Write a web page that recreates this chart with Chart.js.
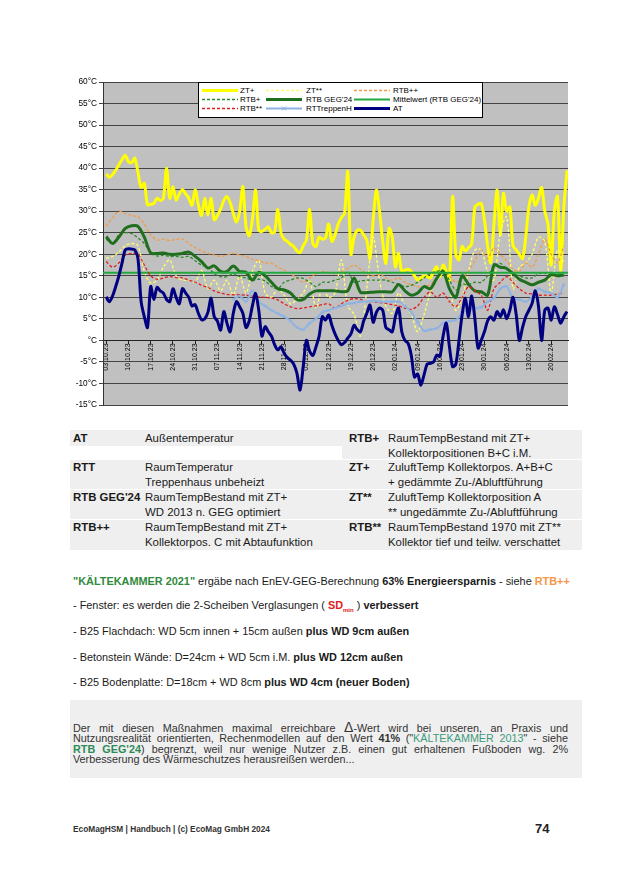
<!DOCTYPE html>
<html>
<head>
<meta charset="utf-8">
<script src="https://cdn.jsdelivr.net/npm/chart.js@4.4.0/dist/chart.umd.min.js"></script>
<style>
body { margin: 0; background: #fff; }
#page { position: relative; width: 622px; height: 882px; overflow: hidden; font-family: "Liberation Sans", Arial, sans-serif; color: #222; }
#chartBox { position: absolute; left: 55px; top: 72px; width: 520px; height: 345px; }
#legend { position: absolute; left: 198px; top: 82px; width: 285px; height: 36px; box-sizing: border-box; background: #fff; border: 1px solid #000; font-size: 8px; color: #000; }
#legend .item { position: absolute; height: 0; }
#legend svg { position: absolute; left: 0; top: -4px; }
#legend span { position: absolute; top: -5px; white-space: nowrap; line-height: 10px; }
.bg { position: absolute; background: #efefef; }
.t { position: absolute; font-size: 11.4px; line-height: 14.5px; white-space: nowrap; color: #1a1a1a; }
.b { font-weight: bold; }
.line { position: absolute; left: 73px; font-size: 10.9px; line-height: 14px; white-space: nowrap; color: #1a1a1a; }
#para { position: absolute; left: 73px; top: 722px; width: 495px; font-size: 10.8px; line-height: 10.4px; color: #333; }
#para div { text-align: justify; text-align-last: justify; white-space: nowrap; }
#para div.last { text-align-last: left; }
#foot { position: absolute; left: 73px; top: 824px; font-size: 8.3px; font-weight: bold; color: #333; }
#pnum { position: absolute; left: 535px; top: 821px; font-size: 13px; font-weight: bold; color: #222; }
</style>
</head>
<body>
<div id="page">
  <div id="chartBox"><canvas id="TempChart"></canvas></div>
  <div id="legend"></div>

  <!-- Legend table -->
  <div class="bg" style="left:70px;top:430px;width:272px;height:16px"></div>
  <div class="bg" style="left:342px;top:430px;width:240px;height:29px"></div>
  <div class="bg" style="left:70px;top:460px;width:512px;height:29px"></div>
  <div class="bg" style="left:70px;top:490px;width:512px;height:29px"></div>
  <div class="bg" style="left:70px;top:520px;width:512px;height:30px"></div>

  <div class="t b" style="left:73px;top:431px">AT</div>
  <div class="t" style="left:145px;top:431px">Außentemperatur</div>
  <div class="t b" style="left:349px;top:431px">RTB+</div>
  <div class="t" style="left:388px;top:431px">RaumTempBestand mit ZT+<br>Kollektorpositionen B+C i.M.</div>

  <div class="t b" style="left:73px;top:460px">RTT</div>
  <div class="t" style="left:145px;top:460px">RaumTemperatur<br>Treppenhaus unbeheizt</div>
  <div class="t b" style="left:349px;top:460px">ZT+</div>
  <div class="t" style="left:388px;top:460px">ZuluftTemp Kollektorpos. A+B+C<br>+ gedämmte Zu-/Abluftführung</div>

  <div class="t b" style="left:73px;top:490px">RTB GEG'24</div>
  <div class="t" style="left:145px;top:490px">RaumTempBestand mit ZT+<br>WD 2013 n. GEG optimiert</div>
  <div class="t b" style="left:349px;top:490px">ZT**</div>
  <div class="t" style="left:388px;top:490px">ZuluftTemp Kollektorposition A<br>** ungedämmte Zu-/Abluftführung</div>

  <div class="t b" style="left:73px;top:520px">RTB++</div>
  <div class="t" style="left:145px;top:520px">RaumTempBestand mit ZT+<br>Kollektorpos. C mit Abtaufunktion</div>
  <div class="t b" style="left:349px;top:520px">RTB**</div>
  <div class="t" style="left:388px;top:520px">RaumTempBestand 1970 mit ZT**<br>Kollektor tief und teilw. verschattet</div>

  <!-- Notes -->
  <div class="line" style="top:574px"><b style="color:#2f8a3c">"KÄLTEKAMMER 2021"</b> ergäbe nach EnEV-GEG-Berechnung <b>63% Energieersparnis</b> - siehe <b style="color:#f79646">RTB++</b></div>
  <div class="line" style="top:598px">- Fenster: es werden die 2-Scheiben Verglasungen ( <b style="color:#e02020">SD<sub style="font-size:6px">min</sub></b> ) <b>verbessert</b></div>
  <div class="line" style="top:624px">- B25 Flachdach: WD 5cm innen + 15cm außen <b>plus WD 9cm außen</b></div>
  <div class="line" style="top:650px">- Betonstein Wände: D=24cm + WD 5cm i.M. <b>plus WD 12cm außen</b></div>
  <div class="line" style="top:675px">- B25 Bodenplatte: D=18cm + WD 8cm <b>plus WD 4cm (neuer Boden)</b></div>

  <div class="bg" style="left:70px;top:700px;width:512px;height:78px"></div>
  <div id="para">
    <div>Der mit diesen Maßnahmen maximal erreichbare <span style="font-size:14px">Δ</span>-Wert wird bei unseren, an Praxis und</div>
    <div>Nutzungsrealität orientierten, Rechenmodellen auf den Wert <b>41%</b> ("<span style="color:#3d9a7c">KÄLTEKAMMER 2013</span>" - siehe</div>
    <div><b style="color:#2e8b57">RTB GEG'24</b>) begrenzt, weil nur wenige Nutzer z.B. einen gut erhaltenen Fußboden wg. 2%</div>
    <div class="last">Verbesserung des Wärmeschutzes herausreißen werden...</div>
  </div>

  <div id="foot">EcoMagHSM | Handbuch | (c) EcoMag GmbH 2024</div>
  <div id="pnum">74</div>
</div>

<script>
// x axis: days since 03.10.23
const tickLabels = ['03.10.23', '10.10.23', '17.10.23', '24.10.23', '31.10.23', '07.11.23', '14.11.23',
    '21.11.23', '28.11.23', '05.12.23', '12.12.23', '19.12.23', '26.12.23', '02.01.24', '09.01.24',
    '16.01.24', '23.01.24', '30.01.24', '06.02.24', '13.02.24', '20.02.24'];
const tickDays = [0, 7, 14, 21, 28, 35, 42, 49, 56, 63, 70, 77, 84, 91, 98, 105, 112, 119, 126, 133, 140];

const days = Array.from({ length: 146 }, (_, i) => i);      // daily values
const days2 = Array.from({ length: 73 }, (_, i) => i * 2);  // every 2nd day

// ZT+ (daily)
const ztPlus = [
    38.6, 37.9, 38.5, 39.5, 40.8, 42, 43, 41.5, 41.3, 42.3,
    39, 35.5, 36.5, 31.5, 31.6, 31.8, 33, 32.5, 33, 40,
    33, 35.7, 32.6, 34, 35, 34, 33, 31.4, 35, 31.5,
    29, 33, 29.1, 33, 28, 29, 30.5, 32.5, 33.4, 32,
    29.5, 27.5, 30, 35.7, 26.4, 24.3, 28, 34.9, 25.6, 25.3,
    25.8, 26.4, 25, 25.2, 30.4, 25, 23.5, 23, 22.3, 21.8,
    20.8, 20.4, 22, 23.3, 30.4, 22.5, 21.8, 24, 23.5, 23.8,
    27, 23, 24.5, 27, 28.5, 29.5, 39.2, 20, 24, 25.6,
    25.6, 24.5, 23.3, 19, 28, 34.9, 30, 23, 17.9, 26,
    24, 17.1, 20.2, 16, 16.3, 16.5, 16, 15, 14, 14.5,
    15, 14.8, 14.5, 16, 17.1, 14.8, 17.5, 16, 14, 33.4,
    20, 18.7, 21.8, 20.8, 21.5, 22.5, 31, 31.6, 31.8, 28,
    22, 18, 27, 34.9, 24.5, 34.1, 30, 31, 22, 21,
    20, 19, 24, 31, 33.8, 31.4, 33, 35.5, 30, 27,
    17.5, 30, 33.4, 16.3, 31, 39.5
];

// AT (daily)
const at = [
    10.1, 9, 10.3, 12.5, 15, 18, 21, 21.3, 21.2, 21,
    19, 9, 5.5, 3, 12.5, 9.5, 12.3, 11.5, 11, 9.5,
    9, 12, 10, 8.5, 12, 11, 10, 8, 8.3, 6.3,
    4.8, 5, 6.5, 9.8, 5.5, 4.5, 2.4, 6.7, 4, 2,
    6.3, 9, 7.8, 6.3, 3, 4.5, 8, 10.9, 7, 1,
    3.2, 2, 1, -1, -2.2, -1.5, -3, -4, -4.6, -5.5,
    -7.6, -11.5, -6, 0, -2.5, -3.5, -1.5, 1, 5.5, 4.7,
    5.9, 3.5, 1.5, 0, -1, -0.5, 0.5, 1.5, 3.5, 2.5,
    2, 4.5, 6.3, 8.2, 4.2, 6.5, 7.5, 7, 3, 2.5,
    2, 5.5, 7.5, 2, 0, -0.7, -3.5, -8.5, -7.8, -10.4,
    -8, -5.5, -5.3, -5, -3.4, -3.7, 1, 4, -1.5, -6.1,
    -5.5, 0, 6, 9.8, 5.5, 10.3, 5, -1.8, 0, 2,
    4.5, 5.5, 4.7, 6.7, 5.5, 7.1, 5, 7, 10, 6,
    0, 3, 5.5, 7, 8.6, 11.5, 8, 0, 7, 7.5,
    4.7, 7.8, 6, 4, 5.5, 6.7
];

// every 2nd day
const ztStar = [
    19, 19.5, 20.5, 22, 22.5, 22, 16, 13.3, 14, 17,
    18.7, 15, 14, 14, 13.5, 16.3, 12, 14, 11.5, 14,
    10.5, 15, 11, 16, 18.7, 11, 10, 12, 10.5, 8.5,
    9.5, 11, 14, 7.5, 12, 10, 11, 18.7, 8, 6,
    1, 12, 24, 14, 8, 6.3, 11, 8, 6, 2,
    6, 11, 14, 15.6, 12, 7, 10, 16, 21, 21,
    16, 14, 25, 28.7, 12, 17, 18, 20, 24, 23,
    11, 21, 18
];
const rtbPlusPlus = [
    26.5, 28.5, 30, 29.5, 29, 28.7, 27, 24.5, 23.3, 23.5,
    23.2, 23.5, 23.5, 22.5, 21.5, 20.8, 20.2, 19.8, 19.5, 19.8,
    20.2, 19.8, 19.5, 18.8, 18.5, 18, 17.9, 17, 16.3, 15.5,
    14.5, 13.5, 14.5, 15.5, 16, 15.8, 15.5, 16, 16.7, 17.5,
    16.5, 15.5, 15, 15.5, 14.5, 14, 14.5, 13.5, 13, 12.5,
    12.5, 13, 14.5, 16, 15, 13.5, 14.5, 16, 18.5, 21,
    19, 21.5, 20, 18.5, 16.5, 16, 18, 17, 20, 23.5,
    20, 18, 22
];
const rtbPlus = [
    23.5, 22.5, 24.5, 25, 24.8, 23.8, 22.5, 20.5, 19.6, 19.8,
    19.5, 19.5, 19.3, 19.5, 18.5, 17.5, 17, 15.5, 14.8, 14.8,
    15.5, 14.8, 14.5, 14, 14.2, 13.8, 12.5, 12, 13.5, 14,
    14.5, 14.4, 13.5, 12.5, 13.5, 13.5, 14, 14.5, 16, 13.5,
    13.8, 14, 14, 14, 14, 13.5, 13, 12.5, 12.8, 13.5,
    14.5, 15.6, 16, 16.3, 14, 11.7, 13, 13, 13.5, 13.5,
    15, 17.1, 17.9, 16.5, 15.5, 15, 14.5, 14.5, 15.5, 15.6,
    15, 15.5, 15
];
const rtbGeg = [
    24.1, 22.5, 24, 26, 26.6, 26.5, 24, 20.3, 20.2, 20.3,
    20, 20, 20.2, 20.5, 19.5, 18.3, 16.8, 17.3, 16, 16,
    17.3, 16, 15.8, 14, 15.8, 15, 13.5, 12, 11.7, 11,
    9.5, 9.5, 10.8, 11.5, 11.5, 11.5, 11.5, 11.3, 11.5, 14.5,
    11.2, 11.1, 11.2, 11.3, 11.3, 11.3, 13, 11.5, 10.5, 11,
    12.5, 12, 14.4, 16, 12, 10, 15, 13, 11.5, 11.3,
    10.5, 17.5, 17, 16.7, 15.5, 14.2, 13.5, 12.9, 13.5, 14,
    15.3, 15, 15.2
];
const meanGeg = 15.7;
const rtbStar = [
    18.3, 17, 18, 19.8, 20.2, 20, 17.5, 15, 14.2, 14.5,
    14.8, 14.6, 14.5, 14, 13.5, 12.8, 12.3, 11.5, 11, 10.7,
    10.6, 10.6, 10.5, 10.3, 10.1, 10, 9.8, 9.4, 8.5, 7.8,
    7.4, 7.5, 7.8, 8, 8.3, 8.5, 7.5, 8.5, 9.3, 9.7,
    9.5, 9, 9, 8.8, 8.6, 8.3, 8, 7.5, 7.2, 8,
    10, 11.3, 10, 11, 9, 7.8, 10, 12.5, 11.5, 10.5,
    7, 12, 13.5, 14.8, 13.5, 12, 11, 10.8, 10.5, 10.5,
    10.5, 10.8, 11
];
const rtt = [
    null, null, null, null, null, null, null, null, null, null,
    null, null, null, null, null, null, null, null, null, null,
    9.5, 10.3, 9, 11.5, 9, 8, 7, 6.2, 5.5, 4.5,
    3, 2.5, 4, 5, 6.5, 7, 7.5, 8, 8.5, 8.7,
    9, 9, 9.2, 9, 9, 9, 9, 8, 6.5, 4.2,
    2.2, 2.5, 2.8, 4, 4.5, 4.7, 6.3, 7, 7.5, 7.7,
    9, 9.8, 12, 12.5, 9.8, 9.5, 9, 10.1, 12, 11.3,
    11, 10, 13
];

const xMin = -1, xMax = 145.3;
const pts = (xs, ys) => xs.map((x, i) => ({ x: x, y: ys[i] }));

function line(label, data, color, width, dash) {
    return {
        label: label,
        data: data,
        borderColor: color,
        backgroundColor: color,
        borderWidth: width,
        borderDash: dash || [],
        pointRadius: 0,
        tension: 0.3,
        fill: false
    };
}

const datasets = [
    line('ZT+', pts(days, ztPlus), '#ffff00', 3),
    line('ZT**', pts(days2, ztStar), '#ffff66', 1.3, [3, 2]),
    line('RTB++', pts(days2, rtbPlusPlus), '#f39a45', 1.3, [3, 2]),
    line('RTB+', pts(days2, rtbPlus), '#2a8a2a', 1.3, [3, 2]),
    line("RTB GEG'24", pts(days2, rtbGeg), '#1f6f1f', 3),
    line("Mittelwert (RTB GEG'24)", [{ x: xMin, y: meanGeg }, { x: xMax, y: meanGeg }], '#22a83e', 2),
    line('RTB**', pts(days2, rtbStar), '#e02020', 1.3, [3, 2]),
    line('RTTreppenH', pts(days2, rtt), '#8db3e2', 2),
    line('AT', pts(days, at), '#000080', 3)
];
datasets[7].pointStyle = 'crossRot';
datasets[7].pointRadius = 2;
datasets[7].pointBorderWidth = 1;
datasets.forEach((ds, i) => { ds.order = datasets.length - 1 - i; });

// gray plot area
const plotBackground = {
    id: 'plotBackground',
    beforeDraw(chart) {
        const { ctx, chartArea } = chart;
        ctx.save();
        ctx.fillStyle = '#c0c0c0';
        ctx.fillRect(chartArea.left, chartArea.top, chartArea.width, chartArea.height);
        ctx.restore();
    }
};

const chart = new Chart(document.getElementById('TempChart'), {
    type: 'line',
    data: { datasets: datasets },
    plugins: [plotBackground],
    options: {
        responsive: true,
        maintainAspectRatio: false,
        animation: false,
        layout: { padding: { top: 10, right: 7, bottom: 12, left: 0 } },
        plugins: { legend: { display: false }, tooltip: { enabled: false } },
        scales: {
            x: {
                type: 'linear',
                min: xMin,
                max: xMax,
                position: { y: 0 },
                afterBuildTicks: scale => { scale.ticks = tickDays.map(v => ({ value: v })); },
                ticks: {
                    autoSkip: false,
                    minRotation: 90,
                    maxRotation: 90,
                    padding: 0,
                    color: '#000',
                    font: { family: 'Liberation Sans', size: 7 },
                    callback: value => tickLabels[tickDays.indexOf(value)]
                },
                grid: { drawOnChartArea: false, drawTicks: true, tickLength: 3, color: '#222' },
                border: { display: true, color: '#222', width: 1 }
            },
            y: {
                min: -15,
                max: 60,
                afterFit: scale => { scale.width = 48; },
                ticks: {
                    stepSize: 5,
                    padding: 2,
                    color: '#000',
                    font: { family: 'Liberation Sans', size: 8.3 },
                    callback: v => (v === 0 ? '°C' : v + '°C')
                },
                grid: { color: '#444', lineWidth: 1, tickLength: 4 },
                border: { display: true, color: '#333' }
            }
        }
    }
});

// legend: 3 columns, drawn from the datasets
const legendBox = document.getElementById('legend');
const legendCols = [3, 67, 155];
const legendText = [41, 107, 194];
const legendRows = [8, 17, 26];
datasets.forEach((ds, i) => {
    const col = i % 3, row = Math.floor(i / 3);
    const item = document.createElement('div');
    item.className = 'item';
    item.style.left = legendCols[col] + 'px';
    item.style.top = legendRows[row] + 'px';
    const dash = ds.borderDash.length ? ' stroke-dasharray="3,2"' : '';
    let marker = '';
    if (ds.pointStyle === 'crossRot') {
        marker = '<path d="M16 1.5 L20 5.5 M20 1.5 L16 5.5" stroke="' + ds.borderColor + '" stroke-width="1"/>';
    }
    item.innerHTML = '<svg width="36" height="7"><line x1="0" y1="3.5" x2="36" y2="3.5" stroke="' +
        ds.borderColor + '" stroke-width="' + ds.borderWidth + '"' + dash + '/>' + marker + '</svg>' +
        '<span style="left:' + (legendText[col] - legendCols[col]) + 'px">' + ds.label + '</span>';
    legendBox.appendChild(item);
});
</script>
</body>
</html>
